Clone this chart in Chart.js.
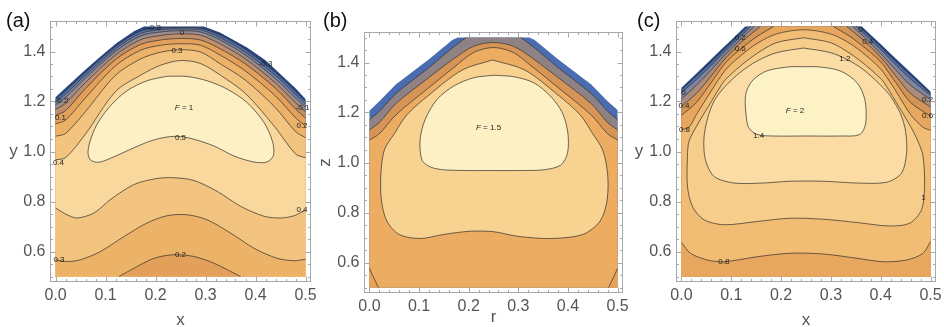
<!DOCTYPE html>
<html>
<head>
<meta charset="utf-8">
<script src="https://cdn.jsdelivr.net/npm/chart.js@4.4.1/dist/chart.umd.min.js"></script>
<style>
  html, body { margin: 0; padding: 0; background: #fff; }
  #wrap { position: relative; width: 944px; height: 327px; overflow: hidden; }
  canvas { position: absolute; top: 0; }
</style>
</head>
<body>
<div id="wrap">
  <canvas id="panelA" width="318" height="327" style="left:0px"></canvas>
  <canvas id="panelB" width="312" height="327" style="left:318px"></canvas>
  <canvas id="panelC" width="314" height="327" style="left:630px"></canvas>
</div>
<script>
// axes shared by the three panels
const X_TICKS = [0, 0.1, 0.2, 0.3, 0.4, 0.5];
const Y_TICKS = [0.6, 0.8, 1.0, 1.2, 1.4];
const X_RANGE = [-0.01, 0.51];
const Y_RANGE = [0.48, 1.52];
const DOMAIN_BOTTOM = [[0.5, 0.5], [0, 0.5]];

// ---- panel (a): contour levels -0.3 .. 0.5, step 0.1
const A_BOUNDARY = [[0, 1.217], [0.02, 1.254], [0.057, 1.322], [0.09, 1.38], [0.123, 1.435], [0.157, 1.481], [0.177, 1.5],
  [0.297, 1.5], [0.33, 1.475], [0.383, 1.416], [0.42, 1.365], [0.45, 1.309], [0.48, 1.253], [0.5, 1.21]];
const A_X = [0, 0.02, 0.06, 0.12, 0.17, 0.21, 0.25, 0.29, 0.33, 0.38, 0.44, 0.48, 0.5];
const A_M03 = [1.207, 1.243, 1.317, 1.42, 1.482, 1.494, 1.496, 1.494, 1.465, 1.408, 1.316, 1.24, 1.202];
const A_M02 = [1.196, 1.23, 1.306, 1.41, 1.472, 1.487, 1.49, 1.487, 1.455, 1.397, 1.304, 1.228, 1.19];
const A_M01 = [1.186, 1.216, 1.294, 1.40, 1.462, 1.478, 1.483, 1.478, 1.445, 1.386, 1.291, 1.214, 1.177];
const A_P00 = [1.168, 1.193, 1.276, 1.386, 1.447, 1.464, 1.471, 1.465, 1.43, 1.37, 1.274, 1.195, 1.159];
const A_P01 = [1.144, 1.163, 1.252, 1.368, 1.428, 1.446, 1.452, 1.446, 1.41, 1.35, 1.253, 1.17, 1.134];
const A_P02 = [1.111, 1.125, 1.215, 1.343, 1.405, 1.425, 1.431, 1.425, 1.385, 1.322, 1.222, 1.135, 1.102];
const A_P03 = [1.061, 1.072, 1.16, 1.305, 1.37, 1.397, 1.407, 1.398, 1.35, 1.285, 1.175, 1.08, 1.055];
const A_P04 = [0.967, 0.975, 1.07, 1.24, 1.305, 1.345, 1.364, 1.352, 1.305, 1.232, 1.095, 0.99, 0.975];
const A_LOW_04 = [[0, 0.774], [0.023, 0.747], [0.043, 0.734], [0.077, 0.754], [0.11, 0.808], [0.157, 0.868], [0.203, 0.892],
  [0.237, 0.895], [0.277, 0.884], [0.323, 0.841], [0.37, 0.781], [0.417, 0.741], [0.45, 0.734], [0.477, 0.743], [0.5, 0.765]];
const A_LOW_03 = [[0, 0.567], [0.023, 0.56], [0.05, 0.567], [0.09, 0.6], [0.137, 0.66], [0.183, 0.714], [0.223, 0.743],
  [0.263, 0.747], [0.303, 0.727], [0.35, 0.674], [0.397, 0.613], [0.443, 0.573], [0.477, 0.563], [0.5, 0.569]];
const A_LOW_02 = [[0.127, 0.5], [0.157, 0.533], [0.197, 0.573], [0.237, 0.587], [0.277, 0.58], [0.317, 0.553], [0.37, 0.5]];
const A_CLOSED_05 = [[0.223, 1.301], [0.263, 1.3], [0.303, 1.283], [0.343, 1.25], [0.383, 1.196], [0.417, 1.116],
  [0.434, 1.04], [0.436, 0.985], [0.423, 0.958], [0.397, 0.958], [0.357, 0.982], [0.317, 1.022], [0.277, 1.049], [0.25, 1.06],
  [0.223, 1.058], [0.19, 1.042], [0.157, 1.015], [0.117, 0.979], [0.087, 0.957], [0.07, 0.966], [0.065, 0.995], [0.069, 1.04],
  [0.083, 1.109], [0.11, 1.183], [0.143, 1.243], [0.183, 1.283]];
const A_COLORS = ['#27457f', '#4f70ad', '#7381a3', '#9a8d90', '#bf8f6b', '#e2a05a', '#ecb268', '#f3c47f', '#f8d89d', '#fdf0c5'];
const A_LABELS = [['-0.3', 0.197, 1.494], ['0', 0.253, 1.474], ['0.3', 0.243, 1.404], ['-0.3', 0.42, 1.352],
  ['-0.2', 0.012, 1.203], ['0.1', 0.01, 1.136], ['-0.1', 0.494, 1.176], ['0.2', 0.493, 1.103], ['0.4', 0.006, 0.955],
  ['0.5', 0.25, 1.056], ['0.4', 0.493, 0.767], ['0.3', 0.007, 0.567], ['0.2', 0.25, 0.587]];

// ---- panel (b)
const B_BOUNDARY = [[0, 1.207], [0.02, 1.245], [0.053, 1.312], [0.12, 1.413], [0.167, 1.49], [0.178, 1.5], [0.322, 1.5],
  [0.333, 1.49], [0.38, 1.413], [0.447, 1.312], [0.48, 1.245], [0.5, 1.21]];
const B_L1 = [[0, 1.172], [0.02, 1.205], [0.053, 1.275], [0.12, 1.38], [0.165, 1.455], [0.195, 1.5], [0.305, 1.5],
  [0.335, 1.455], [0.38, 1.38], [0.447, 1.275], [0.48, 1.205], [0.5, 1.172]];
const B_L2 = [[0, 1.13], [0.02, 1.16], [0.053, 1.235], [0.12, 1.34], [0.17, 1.415], [0.21, 1.465], [0.25, 1.48],
  [0.29, 1.465], [0.33, 1.415], [0.38, 1.34], [0.447, 1.235], [0.48, 1.16], [0.5, 1.13]];
const B_L3 = [[0, 1.09], [0.02, 1.115], [0.053, 1.19], [0.12, 1.30], [0.17, 1.38], [0.21, 1.44], [0.25, 1.46],
  [0.29, 1.44], [0.33, 1.38], [0.38, 1.30], [0.447, 1.19], [0.48, 1.115], [0.5, 1.09]];
const B_L4 = [[0.248, 1.41], [0.313, 1.37], [0.38, 1.27], [0.425, 1.19], [0.45, 1.115], [0.47, 1.05], [0.48, 0.955],
  [0.479, 0.85], [0.465, 0.766], [0.43, 0.712], [0.365, 0.696], [0.298, 0.705], [0.251, 0.723], [0.203, 0.725],
  [0.149, 0.712], [0.102, 0.696], [0.06, 0.712], [0.035, 0.766], [0.024, 0.85], [0.023, 0.955], [0.03, 1.05],
  [0.05, 1.115], [0.075, 1.19], [0.12, 1.27], [0.187, 1.37]];
const B_L5 = [[0.251, 1.349], [0.291, 1.343], [0.331, 1.319], [0.365, 1.265], [0.389, 1.198], [0.4, 1.117], [0.399, 1.036],
  [0.385, 0.989], [0.352, 0.971], [0.298, 0.968], [0.244, 0.968], [0.197, 0.968], [0.149, 0.971], [0.123, 0.982],
  [0.106, 1.009], [0.102, 1.09], [0.112, 1.171], [0.136, 1.252], [0.17, 1.306], [0.21, 1.339]];
const B_CORNER_L = [[0, 0.577], [0.006, 0.55], [0.012, 0.525], [0.018, 0.5]];
const B_CORNER_R = [[0.5, 0.577], [0.494, 0.55], [0.488, 0.525], [0.482, 0.5]];
const B_COLORS = ['#4a6cb0', '#8f8285', '#d69557', '#ecad63', '#e5a35c', '#f7d291', '#fdf0c4'];

// ---- panel (c): levels -0.2 .. 1.4, step 0.2
const C_BOUNDARY = [[0, 1.255], [0.03, 1.312], [0.06, 1.37], [0.085, 1.418], [0.1, 1.446], [0.128, 1.5], [0.362, 1.5],
  [0.39, 1.448], [0.405, 1.42], [0.43, 1.372], [0.46, 1.316], [0.5, 1.24]];
const C_M02 = [[0, 1.247], [0.03, 1.302], [0.06, 1.358], [0.085, 1.407], [0.1, 1.436], [0.133, 1.5], [0.357, 1.5],
  [0.39, 1.438], [0.405, 1.409], [0.43, 1.36], [0.46, 1.305], [0.5, 1.232]];
const C_P00 = [[0, 1.236], [0.03, 1.288], [0.06, 1.345], [0.085, 1.396], [0.1, 1.425], [0.139, 1.5], [0.351, 1.5],
  [0.39, 1.427], [0.405, 1.398], [0.43, 1.347], [0.46, 1.29], [0.5, 1.225]];
const C_P02 = [[0, 1.21], [0.03, 1.265], [0.06, 1.327], [0.085, 1.382], [0.1, 1.412], [0.12, 1.452], [0.146, 1.5],
  [0.344, 1.5], [0.37, 1.452], [0.39, 1.412], [0.405, 1.382], [0.43, 1.327], [0.46, 1.265], [0.5, 1.208]];
const C_P04 = [[0, 1.18], [0.03, 1.232], [0.06, 1.303], [0.085, 1.366], [0.1, 1.397], [0.12, 1.437], [0.158, 1.5],
  [0.332, 1.5], [0.37, 1.437], [0.39, 1.397], [0.405, 1.366], [0.43, 1.303], [0.46, 1.232], [0.5, 1.178]];
const C_P06 = [[0, 1.145], [0.03, 1.196], [0.06, 1.277], [0.085, 1.347], [0.1, 1.378], [0.12, 1.412], [0.15, 1.458],
  [0.185, 1.5], [0.305, 1.5], [0.34, 1.458], [0.37, 1.412], [0.39, 1.378], [0.405, 1.347], [0.43, 1.277], [0.46, 1.196],
  [0.5, 1.141]];
const C_P08 = [[0, 1.088], [0.015, 1.097], [0.03, 1.148], [0.06, 1.243], [0.085, 1.318], [0.1, 1.35], [0.12, 1.385],
  [0.15, 1.43], [0.19, 1.47], [0.245, 1.487], [0.3, 1.47], [0.34, 1.43], [0.37, 1.385], [0.39, 1.35], [0.405, 1.318],
  [0.43, 1.243], [0.46, 1.148], [0.485, 1.097], [0.5, 1.085]];
const C_LOW_08 = [[0, 0.636], [0.018, 0.593], [0.052, 0.566], [0.085, 0.559], [0.152, 0.579], [0.218, 0.593], [0.285, 0.59],
  [0.352, 0.573], [0.405, 0.559], [0.452, 0.566], [0.485, 0.593], [0.5, 0.64]];
const C_CLOSED_10 = [[0.245, 1.455], [0.3, 1.435], [0.34, 1.39], [0.37, 1.345], [0.39, 1.31], [0.405, 1.28], [0.43, 1.2],
  [0.46, 1.10], [0.475, 1.04], [0.485, 0.981], [0.488, 0.861], [0.482, 0.767], [0.458, 0.713], [0.418, 0.702], [0.352, 0.716],
  [0.285, 0.729], [0.218, 0.733], [0.152, 0.72], [0.085, 0.707], [0.045, 0.727], [0.022, 0.78], [0.012, 0.861], [0.012, 0.981],
  [0.015, 1.04], [0.03, 1.10], [0.06, 1.2], [0.085, 1.28], [0.1, 1.31], [0.12, 1.345], [0.15, 1.39], [0.19, 1.435]];
const C_CLOSED_12 = [[0.245, 1.414], [0.19, 1.395], [0.15, 1.36], [0.12, 1.32], [0.1, 1.285], [0.085, 1.255], [0.065, 1.2],
  [0.052, 1.13], [0.045, 1.05], [0.048, 0.968], [0.065, 0.901], [0.105, 0.874], [0.165, 0.874], [0.218, 0.881], [0.285, 0.881],
  [0.352, 0.874], [0.412, 0.877], [0.442, 0.914], [0.452, 0.995], [0.45, 1.08], [0.44, 1.15], [0.42, 1.22], [0.405, 1.255],
  [0.37, 1.32], [0.34, 1.36], [0.3, 1.395]];
const C_CLOSED_14 = [[0.245, 1.339], [0.218, 1.339], [0.172, 1.323], [0.145, 1.289], [0.132, 1.249], [0.128, 1.209],
  [0.13, 1.142], [0.135, 1.095], [0.152, 1.068], [0.185, 1.062], [0.252, 1.062], [0.318, 1.062], [0.358, 1.068],
  [0.37, 1.115], [0.368, 1.209], [0.352, 1.276], [0.318, 1.323], [0.272, 1.339]];
const C_COLORS = ['#27457f', '#4d6fad', '#7d85a0', '#a98c7e', '#d39556', '#e8a75e', '#f1bc73', '#f6cd8b', '#fadca4', '#fdf1c6'];
const C_LABELS = [['0', 0.36, 1.486], ['0.4', 0.374, 1.437], ['0.2', 0.118, 1.454], ['0.6', 0.118, 1.41], ['1.2', 0.328, 1.37],
  ['0', 0.004, 1.236], ['0.4', 0.005, 1.181], ['0.8', 0.006, 1.088], ['0.2', 0.494, 1.208], ['0.6', 0.494, 1.141],
  ['1.4', 0.155, 1.062], ['1', 0.486, 0.814], ['0.8', 0.085, 0.559]];

const FONT = '"Liberation Sans", Arial, Helvetica, sans-serif';
const TICK_COLOR = '#555555';
const FRAME_COLOR = '#a8a8a8';
const LINE_COLOR = 'rgba(55, 50, 45, 0.72)';
const TENSION = 0.3;

Chart.defaults.font.family = FONT;

const toXY = pts => pts.map(p => ({ x: p[0], y: p[1] }));
const arch = ys => A_X.map((x, i) => [x, ys[i]]);
// a repeated point keeps the spline from rounding a corner (clipped top, domain corners)
const sharpen = pts => pts.flatMap(p => (p[1] >= 1.5 ? [p, p] : [p]));
function closeWith(line, corners) {
  const s = sharpen(line);
  return s.concat([s[s.length - 1]], corners.flatMap(c => [c, c]));
}
const under = line => closeWith(line, DOMAIN_BOTTOM);
const loop = pts => pts.concat([pts[0]]);
// hide the pieces of a contour that run along the clipped top edge
const hideTop = c => (c.p0.parsed.y >= 1.5 && c.p1.parsed.y >= 1.5) ? 'rgba(0,0,0,0)' : undefined;

function fillSet(points, color, tension = TENSION) {
  return { data: toXY(points), showLine: true, fill: 'shape', backgroundColor: color,
    borderColor: 'rgba(0,0,0,0)', borderWidth: 0, pointRadius: 0, tension };
}

function lineSet(points) {
  return { data: toXY(sharpen(points)), showLine: true, fill: false, borderColor: LINE_COLOR, borderWidth: 1,
    pointRadius: 0, tension: TENSION, segment: { borderColor: hideTop } };
}

// fills are painted in list order, contour lines go on top
function stack(fills, lines) {
  const n = fills.length;
  return fills.map((d, i) => Object.assign(d, { order: 100 + n - i }))
    .concat(lines.map(d => Object.assign(d, { order: 0 })));
}

function decorPlugin(cfg) {
  return {
    id: 'decor',
    afterDraw(chart) {
      const { ctx, chartArea: a, scales: { x, y } } = chart;
      ctx.save();

      // contour labels
      ctx.fillStyle = '#1e1e1e';
      ctx.textAlign = 'center';
      ctx.textBaseline = 'middle';
      ctx.font = '8px ' + FONT;
      cfg.labels.forEach(([t, vx, vy]) => ctx.fillText(t, x.getPixelForValue(vx), y.getPixelForValue(vy)));

      // "F = n" with italic F
      const [val, fx, fy] = cfg.fLabel;
      const px = x.getPixelForValue(fx), py = y.getPixelForValue(fy);
      ctx.font = 'italic 8px ' + FONT;
      const wF = ctx.measureText('F').width;
      ctx.font = '8px ' + FONT;
      const rest = ' = ' + val;
      const wR = ctx.measureText(rest).width;
      const start = px - (wF + wR) / 2;
      ctx.textAlign = 'left';
      ctx.font = 'italic 8px ' + FONT;
      ctx.fillText('F', start, py);
      ctx.font = '8px ' + FONT;
      ctx.fillText(rest, start + wF, py);

      // frame with inward ticks
      ctx.strokeStyle = FRAME_COLOR;
      ctx.lineWidth = 1;
      ctx.strokeRect(a.left, a.top, a.right - a.left, a.bottom - a.top);
      ctx.beginPath();
      for (let i = 0; i <= 25; i++) {
        const p = Math.round(x.getPixelForValue(i * 0.02)) + 0.5;
        const len = i % 5 === 0 ? 5 : 2.5;
        ctx.moveTo(p, a.bottom); ctx.lineTo(p, a.bottom - len);
        ctx.moveTo(p, a.top); ctx.lineTo(p, a.top + len);
      }
      for (let i = 0; i <= 20; i++) {
        const p = Math.round(y.getPixelForValue(0.5 + i * 0.05)) + 0.5;
        const len = i % 4 === 2 ? 5 : 2.5;
        ctx.moveTo(a.left, p); ctx.lineTo(a.left + len, p);
        ctx.moveTo(a.right, p); ctx.lineTo(a.right - len, p);
      }
      ctx.stroke();

      // axis titles
      ctx.fillStyle = TICK_COLOR;
      ctx.font = '17px ' + FONT;
      ctx.textAlign = 'center';
      ctx.textBaseline = 'middle';
      ctx.fillText(cfg.xTitle, (a.left + a.right) / 2, cfg.xTitleY);
      const ty = y.getPixelForValue(1.0);
      const tx = a.left - cfg.yTitleDX;
      if (cfg.rotateY) {
        ctx.translate(tx, ty);
        ctx.rotate(-Math.PI / 2);
        ctx.fillText(cfg.yTitle, 0, 0);
        ctx.setTransform(1, 0, 0, 1, 0, 0);
      } else {
        ctx.fillText(cfg.yTitle, tx, ty);
      }

      // panel letter
      ctx.fillStyle = '#111';
      ctx.font = '20px ' + FONT;
      ctx.textAlign = 'left';
      ctx.fillText(cfg.letter, cfg.letterX, 21);
      ctx.restore();
    }
  };
}

function makePanel(id, datasets, box, decor) {
  return new Chart(document.getElementById(id), {
    type: 'scatter',
    data: { datasets },
    options: {
      responsive: false,
      animation: false,
      events: [],
      layout: { padding: { left: 0, top: box.top, right: box.right, bottom: 0 } },
      plugins: { legend: { display: false }, tooltip: { enabled: false } },
      scales: {
        x: {
          type: 'linear', min: X_RANGE[0], max: X_RANGE[1],
          grid: { display: false, drawTicks: false }, border: { display: false },
          ticks: { padding: 4, color: TICK_COLOR, font: { size: 16 }, autoSkip: false, maxRotation: 0,
            callback: v => Number(v).toFixed(1) },
          afterBuildTicks: s => { s.ticks = X_TICKS.map(v => ({ value: v })); },
          afterFit: s => { s.height = box.xAxisH; s.paddingLeft = 0; s.paddingRight = 0; }
        },
        y: {
          type: 'linear', min: Y_RANGE[0], max: Y_RANGE[1],
          grid: { display: false, drawTicks: false }, border: { display: false },
          ticks: { padding: 5, color: TICK_COLOR, font: { size: 16 }, autoSkip: false,
            callback: v => Number(v).toFixed(1) },
          afterBuildTicks: s => { s.ticks = Y_TICKS.map(v => ({ value: v })); },
          afterFit: s => { s.width = box.yAxisW; s.paddingTop = 0; s.paddingBottom = 0; }
        }
      }
    },
    plugins: [decorPlugin(decor)]
  });
}

// (a)
const aSets = stack([
  fillSet(A_BOUNDARY.concat(DOMAIN_BOTTOM), A_COLORS[0], 0),
  fillSet(under(arch(A_M03)), A_COLORS[1]),
  fillSet(under(arch(A_M02)), A_COLORS[2]),
  fillSet(under(arch(A_M01)), A_COLORS[3]),
  fillSet(under(arch(A_P00)), A_COLORS[4]),
  fillSet(under(arch(A_P01)), A_COLORS[5]),
  fillSet(under(arch(A_P02)), A_COLORS[6]),
  fillSet(under(arch(A_P03)), A_COLORS[7]),
  fillSet(under(arch(A_P04)), A_COLORS[8]),
  fillSet(under(A_LOW_04), A_COLORS[7]),
  fillSet(under(A_LOW_03), A_COLORS[6]),
  fillSet(closeWith(A_LOW_02, []), A_COLORS[5]),
  fillSet(loop(A_CLOSED_05), A_COLORS[9])
], [
  lineSet(arch(A_M03)), lineSet(arch(A_M02)), lineSet(arch(A_M01)), lineSet(arch(A_P00)),
  lineSet(arch(A_P01)), lineSet(arch(A_P02)), lineSet(arch(A_P03)), lineSet(arch(A_P04)),
  lineSet(A_LOW_04), lineSet(A_LOW_03), lineSet(A_LOW_02), lineSet(loop(A_CLOSED_05))
]);
makePanel('panelA', aSets, { top: 21.5, right: 7.5, xAxisH: 45.5, yAxisW: 50.5 },
  { letter: '(a)', letterX: 6, xTitle: 'x', xTitleY: 320, yTitle: 'y', yTitleDX: 37, rotateY: false,
    labels: A_LABELS, fLabel: ['1', 0.257, 1.176] });

// (b)
const bSets = stack([
  fillSet(B_BOUNDARY.concat(DOMAIN_BOTTOM), B_COLORS[0], 0),
  fillSet(under(B_L1), B_COLORS[1]),
  fillSet(under(B_L2), B_COLORS[2]),
  fillSet(under(B_L3), B_COLORS[3]),
  fillSet(closeWith(B_CORNER_L, [[0, 0.5]]), B_COLORS[4]),
  fillSet(closeWith(B_CORNER_R, [[0.5, 0.5]]), B_COLORS[4]),
  fillSet(loop(B_L4), B_COLORS[5]),
  fillSet(loop(B_L5), B_COLORS[6])
], [
  lineSet(B_L1), lineSet(B_L2), lineSet(B_L3), lineSet(B_CORNER_L), lineSet(B_CORNER_R),
  lineSet(loop(B_L4)), lineSet(loop(B_L5))
]);
makePanel('panelB', bSets, { top: 32.5, right: 7.5, xAxisH: 34.5, yAxisW: 46.5 },
  { letter: '(b)', letterX: 5, xTitle: 'r', xTitleY: 317, yTitle: 'z', yTitleDX: 39, rotateY: true,
    labels: [], fLabel: ['1.5', 0.24, 1.14] });

// (c)
const cSets = stack([
  fillSet(C_BOUNDARY.concat(DOMAIN_BOTTOM), C_COLORS[0], 0),
  fillSet(under(C_M02), C_COLORS[1]),
  fillSet(under(C_P00), C_COLORS[2]),
  fillSet(under(C_P02), C_COLORS[3]),
  fillSet(under(C_P04), C_COLORS[4]),
  fillSet(under(C_P06), C_COLORS[5]),
  fillSet(under(C_P08), C_COLORS[6]),
  fillSet(under(C_LOW_08), C_COLORS[5]),
  fillSet(loop(C_CLOSED_10), C_COLORS[7]),
  fillSet(loop(C_CLOSED_12), C_COLORS[8]),
  fillSet(loop(C_CLOSED_14), C_COLORS[9])
], [
  lineSet(C_M02), lineSet(C_P00), lineSet(C_P02), lineSet(C_P04), lineSet(C_P06), lineSet(C_P08),
  lineSet(C_LOW_08), lineSet(loop(C_CLOSED_10)), lineSet(loop(C_CLOSED_12)), lineSet(loop(C_CLOSED_14))
]);
makePanel('panelC', cSets, { top: 21.5, right: 8.5, xAxisH: 45.5, yAxisW: 46.5 },
  { letter: '(c)', letterX: 7, xTitle: 'x', xTitleY: 320, yTitle: 'y', yTitleDX: 37.5, rotateY: false,
    labels: C_LABELS, fLabel: ['2', 0.228, 1.162] });
</script>
</body>
</html>
